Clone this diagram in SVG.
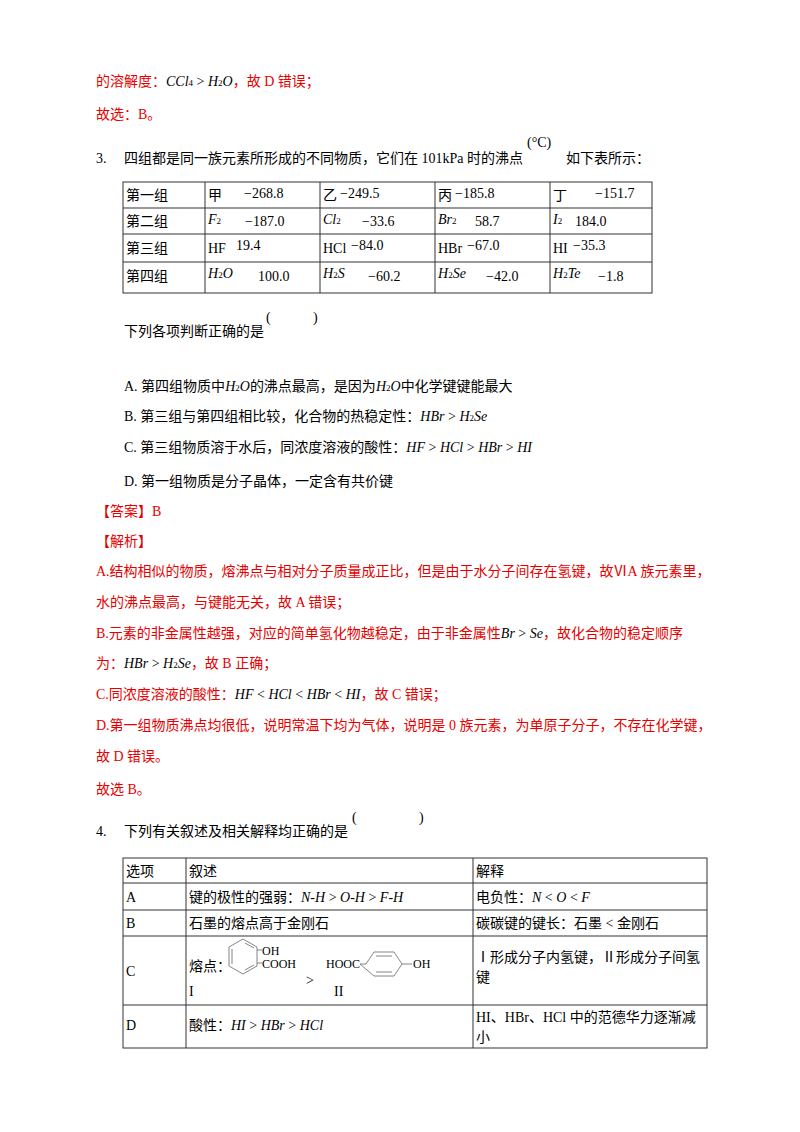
<svg xmlns="http://www.w3.org/2000/svg" width="800" height="1132" viewBox="0 0 800 1132">
<style>
text{font-family:"Liberation Serif","Noto Sans CJK SC",serif;font-size:14px;fill:#000}
.r{fill:#e60000}
.i{font-style:italic}
.g{fill:none;stroke:#333;stroke-width:1}
.m{fill:none;stroke:#666;stroke-width:0.8}
.s{font-size:12px}
</style>
<rect width="800" height="1132" fill="#fff"/>
<text x="96" y="86" class="r">的溶解度：<tspan class="i" fill="#000">CCl</tspan><tspan fill="#000" font-size="9">4</tspan><tspan fill="#000"> &gt; </tspan><tspan class="i" fill="#000">H</tspan><tspan fill="#000" font-size="9">2</tspan><tspan class="i" fill="#000">O</tspan>，故 D 错误；</text>
<text x="96" y="119" class="r">故选：B。</text>
<text x="96" y="163">3.</text>
<text x="124" y="163">四组都是同一族元素所形成的不同物质，它们在 101kPa 时的沸点</text>
<text x="527" y="147">(°C)</text>
<text x="566" y="163">如下表所示：</text>
<g id="table1">
<rect class="g" x="123" y="182" width="529" height="111"/>
<path class="g" d="M123 208H652M123 234H652M123 262H652M205 182V293M320 182V293M435 182V293M550 182V293"/>
<text x="126" y="200">第一组</text><text x="208" y="200">甲</text><text x="244" y="198">−268.8</text>
<text x="323" y="200">乙</text><text x="340" y="198">−249.5</text>
<text x="438" y="200">丙</text><text x="455" y="198">−185.8</text>
<text x="553" y="200">丁</text><text x="595" y="198">−151.7</text>
<text x="126" y="226">第二组</text><text x="208" y="224" class="i">F<tspan font-size="9" font-style="normal">2</tspan></text><text x="245" y="226">−187.0</text>
<text x="323" y="224" class="i">Cl<tspan font-size="9" font-style="normal">2</tspan></text><text x="362" y="226">−33.6</text>
<text x="438" y="224" class="i">Br<tspan font-size="9" font-style="normal">2</tspan></text><text x="475" y="226">58.7</text>
<text x="553" y="224" class="i">I<tspan font-size="9" font-style="normal">2</tspan></text><text x="575" y="226">184.0</text>
<text x="126" y="253">第三组</text><text x="208" y="253">HF</text><text x="236" y="250">19.4</text>
<text x="323" y="253">HCl</text><text x="351" y="250">−84.0</text>
<text x="438" y="253">HBr</text><text x="467" y="250">−67.0</text>
<text x="553" y="253">HI</text><text x="573" y="250">−35.3</text>
<text x="126" y="281">第四组</text><text x="208" y="278" class="i">H<tspan font-size="9" font-style="normal">2</tspan>O</text><text x="258" y="281">100.0</text>
<text x="323" y="278" class="i">H<tspan font-size="9" font-style="normal">2</tspan>S</text><text x="368" y="281">−60.2</text>
<text x="438" y="278" class="i">H<tspan font-size="9" font-style="normal">2</tspan>Se</text><text x="486" y="281">−42.0</text>
<text x="553" y="278" class="i">H<tspan font-size="9" font-style="normal">2</tspan>Te</text><text x="598" y="281">−1.8</text>
</g>
<text x="124" y="336">下列各项判断正确的是</text>
<text x="266" y="322">(</text><text x="313" y="322">)</text>
<text x="124" y="391">A.  第四组物质中<tspan class="i">H</tspan><tspan font-size="9">2</tspan><tspan class="i">O</tspan>的沸点最高，是因为<tspan class="i">H</tspan><tspan font-size="9">2</tspan><tspan class="i">O</tspan>中化学键键能最大</text>
<text x="124" y="421">B.  第三组与第四组相比较，化合物的热稳定性：<tspan class="i">HBr</tspan> &gt; <tspan class="i">H</tspan><tspan font-size="9">2</tspan><tspan class="i">Se</tspan></text>
<text x="124" y="452">C.  第三组物质溶于水后，同浓度溶液的酸性：<tspan class="i">HF</tspan> &gt; <tspan class="i">HCl</tspan> &gt; <tspan class="i">HBr</tspan> &gt; <tspan class="i">HI</tspan></text>
<text x="124" y="486">D.  第一组物质是分子晶体，一定含有共价键</text>
<text x="96" y="516" class="r">【答案】B</text>
<text x="96" y="546" class="r">【解析】</text>
<text x="96" y="576" class="r">A.结构相似的物质，熔沸点与相对分子质量成正比，但是由于水分子间存在氢键，故ⅥA 族元素里，</text>
<text x="96" y="607" class="r">水的沸点最高，与键能无关，故 A 错误；</text>
<text x="96" y="638" class="r">B.元素的非金属性越强，对应的简单氢化物越稳定，由于非金属性<tspan class="i" fill="#000">Br</tspan><tspan fill="#000"> &gt; </tspan><tspan class="i" fill="#000">Se</tspan>，故化合物的稳定顺序</text>
<text x="96" y="668" class="r">为：<tspan class="i" fill="#000">HBr</tspan><tspan fill="#000"> &gt; </tspan><tspan class="i" fill="#000">H</tspan><tspan fill="#000" font-size="9">2</tspan><tspan class="i" fill="#000">Se</tspan>，故 B 正确；</text>
<text x="96" y="699" class="r">C.同浓度溶液的酸性：<tspan class="i" fill="#000">HF</tspan><tspan fill="#000"> &lt; </tspan><tspan class="i" fill="#000">HCl</tspan><tspan fill="#000"> &lt; </tspan><tspan class="i" fill="#000">HBr</tspan><tspan fill="#000"> &lt; </tspan><tspan class="i" fill="#000">HI</tspan>，故 C 错误；</text>
<text x="96" y="730" class="r">D.第一组物质沸点均很低，说明常温下均为气体，说明是 0 族元素，为单原子分子，不存在化学键，</text>
<text x="96" y="761" class="r">故 D 错误。</text>
<text x="96" y="794" class="r">故选 B。</text>
<text x="96" y="836">4.</text>
<text x="124" y="836">下列有关叙述及相关解释均正确的是</text>
<text x="352" y="822">(</text><text x="419" y="822">)</text>
<g id="table2">
<rect class="g" x="123" y="858" width="584" height="190"/>
<path class="g" d="M123 883H707M123 910H707M123 936H707M123 1005H707M186 858V1048M473 858V1048"/>
<text x="126" y="876">选项</text><text x="189" y="876">叙述</text><text x="476" y="876">解释</text>
<text x="126" y="902">A</text><text x="189" y="902">键的极性的强弱：<tspan class="i">N-H</tspan> &gt; <tspan class="i">O-H</tspan> &gt; <tspan class="i">F-H</tspan></text>
<text x="476" y="902">电负性：<tspan class="i">N</tspan> &lt; <tspan class="i">O</tspan> &lt; <tspan class="i">F</tspan></text>
<text x="126" y="928">B</text><text x="189" y="928">石墨的熔点高于金刚石</text><text x="476" y="928">碳碳键的键长：石墨 &lt; 金刚石</text>
<text x="126" y="976">C</text><text x="189" y="971">熔点：</text><text x="189" y="996">I</text>
<path class="m" d="M243 939L257 947V966L243 974L229 966V947Z M245 943L254 948M232 949V964M245 970L254 965"/>
<path class="m" d="M257 950H262M257 963H262"/>
<text x="262" y="955" class="s">OH</text><text x="262" y="968" class="s">COOH</text>
<text x="306" y="985">&gt;</text>
<text x="326" y="968" class="s">HOOC</text>
<path class="m" d="M360 964H366L374 952H394L402 964L394 976H374Z M376 956H392M376 972H392M402 964H412"/>
<text x="413" y="968" class="s">OH</text>
<text x="334" y="996">II</text>
<text x="476" y="962">Ⅰ形成分子内氢键，Ⅱ形成分子间氢</text>
<text x="476" y="982">键</text>
<text x="126" y="1030">D</text><text x="189" y="1030">酸性：<tspan class="i">HI</tspan> &gt; <tspan class="i">HBr</tspan> &gt; <tspan class="i">HCl</tspan></text>
<text x="476" y="1022">HI、HBr、HCl 中的范德华力逐渐减</text>
<text x="476" y="1042">小</text>
</g>
</svg>
